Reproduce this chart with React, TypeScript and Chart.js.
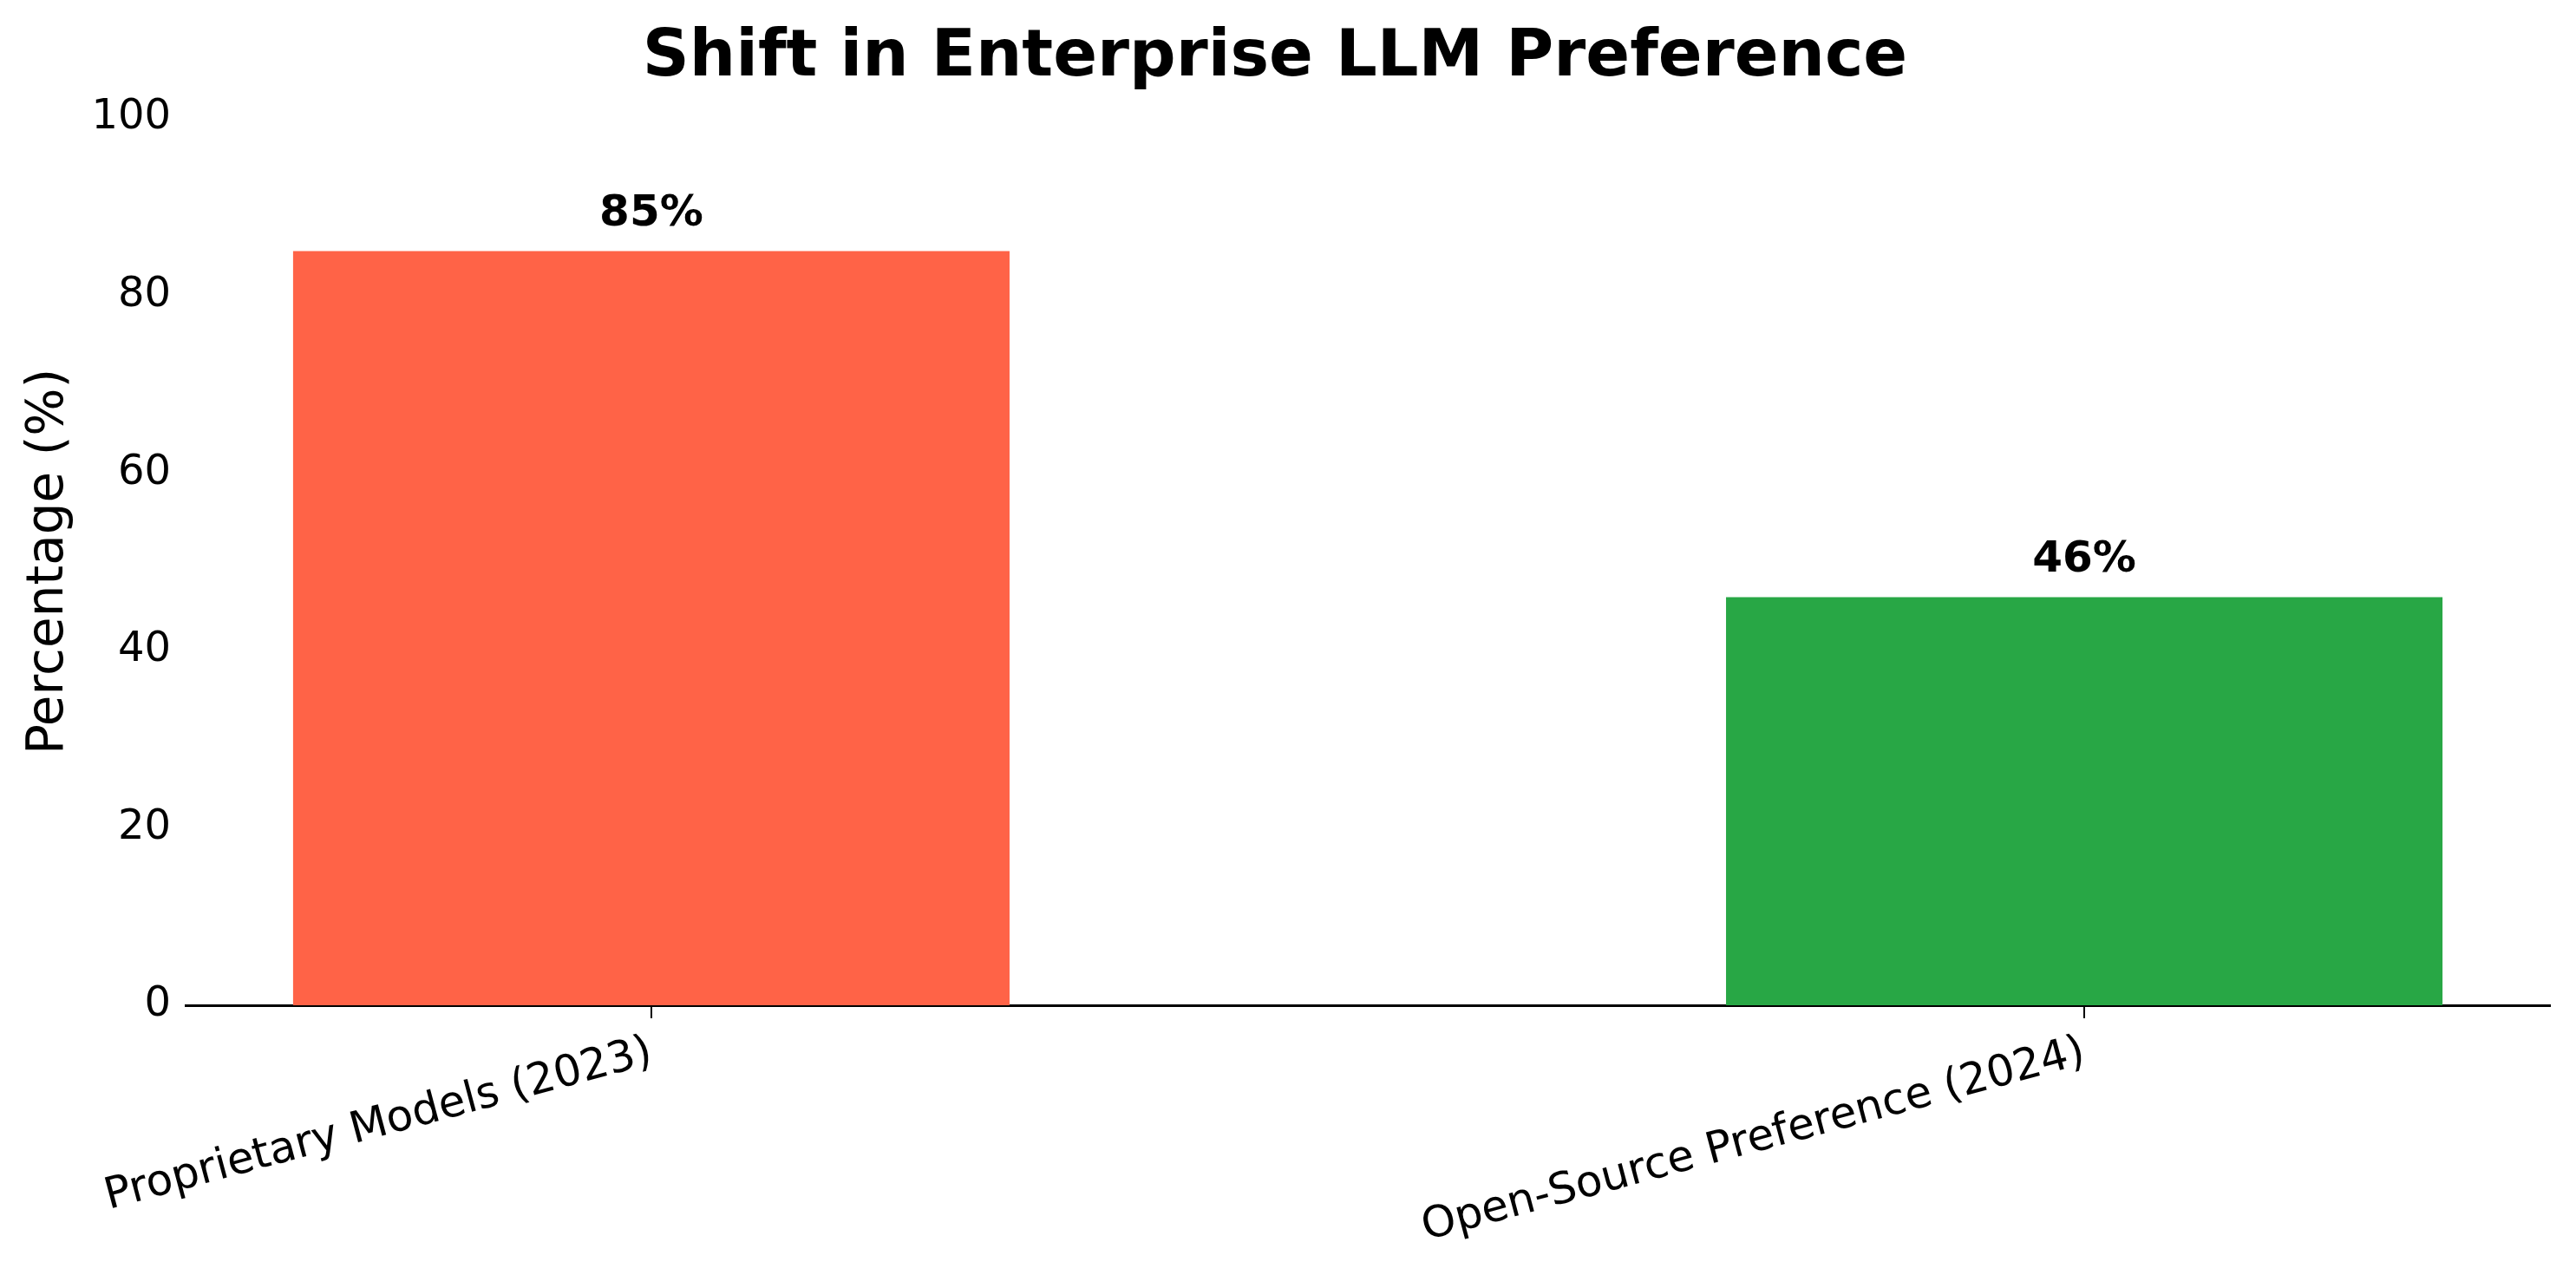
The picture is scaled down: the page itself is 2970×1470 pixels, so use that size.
import React, { useEffect, useRef } from "react";
import { Chart, registerables } from "chart.js";

Chart.register(...registerables);

const categories = ["Proprietary Models (2023)", "Open-Source Preference (2024)"];
const values = [85, 46];
const barColors = ["#FF6347", "#28A745"];
const valueLabels = ["85%", "46%"];
const yTicks = [0, 20, 40, 60, 80, 100];

const FONT = "'DejaVu Sans', sans-serif";

const valueLabelPlugin = {
  id: "valueLabels",
  afterDatasetsDraw(chart: any) {
    const ctx = chart.ctx;
    const meta = chart.getDatasetMeta(0);
    ctx.save();
    ctx.font = `bold 50px ${FONT}`;
    ctx.fillStyle = "#000";
    ctx.textAlign = "center";
    ctx.textBaseline = "alphabetic";
    meta.data.forEach((bar: any, i: number) => {
      ctx.fillText(valueLabels[i], bar.x, bar.y - 29);
    });
    ctx.restore();
  },
};

export default function App() {
  const ref = useRef<HTMLCanvasElement | null>(null);

  useEffect(() => {
    document.body.style.margin = "0";
    document.body.style.overflow = "hidden";
    const canvas = ref.current!;
    const chart = new Chart(canvas, {
      type: "bar",
      data: {
        datasets: [
          {
            data: values.map((v, i) => ({ x: i, y: v })),
            backgroundColor: barColors,
            borderWidth: 0,
            barPercentage: 0.5,
            categoryPercentage: 1,
          },
        ],
      },
      options: {
        animation: false,
        responsive: false,
        devicePixelRatio: 1,
        layout: { padding: { left: 0, right: 30, top: 0, bottom: 0 } },
        plugins: {
          legend: { display: false },
          tooltip: { enabled: false },
          title: {
            display: true,
            text: "Shift in Enterprise LLM Preference",
            color: "#000",
            font: { family: FONT, size: 75, weight: "bold", lineHeight: 1.2 },
            padding: { top: 23, bottom: 23 },
          },
        },
        scales: {
          x: {
            type: "linear",
            min: -0.325,
            max: 1.325,
            offset: false,
            afterBuildTicks(scale: any) {
              scale.ticks = categories.map((_, i) => ({ value: i }));
            },
            afterFit(scale: any) {
              scale.height = 311;
            },
            ticks: {
              callback: (v: any) => categories[v as number] ?? "",
              minRotation: 15,
              maxRotation: 15,
              autoSkip: false,
              color: "#000",
              padding: 10,
              font: { family: FONT, size: 50 },
            },
            grid: {
              display: true,
              offset: false,
              drawOnChartArea: false,
              drawTicks: true,
              tickLength: 15,
              color: "#000",
              lineWidth: 2,
            },
            border: { display: true, color: "#000", width: 3 },
          },
          y: {
            min: 0,
            max: 100,
            afterBuildTicks(scale: any) {
              scale.ticks = yTicks.map((v) => ({ value: v }));
            },
            afterFit(scale: any) {
              scale.width = 214;
            },
            ticks: {
              color: "#000",
              padding: 17,
              font: { family: FONT, size: 48 },
            },
            grid: { display: false, drawTicks: false },
            border: { display: false },
            title: {
              display: true,
              text: "Percentage (%)",
              color: "#000",
              font: { family: FONT, size: 58 },
              padding: { top: 22, bottom: 0 },
            },
          },
        },
      },
      plugins: [valueLabelPlugin],
    } as any);
    return () => chart.destroy();
  }, []);

  return (
    <div style={{ width: 2970, height: 1470, background: "#fff" }}>
      <canvas ref={ref} width={2970} height={1470} style={{ width: 2970, height: 1470, display: "block" }} />
    </div>
  );
}
